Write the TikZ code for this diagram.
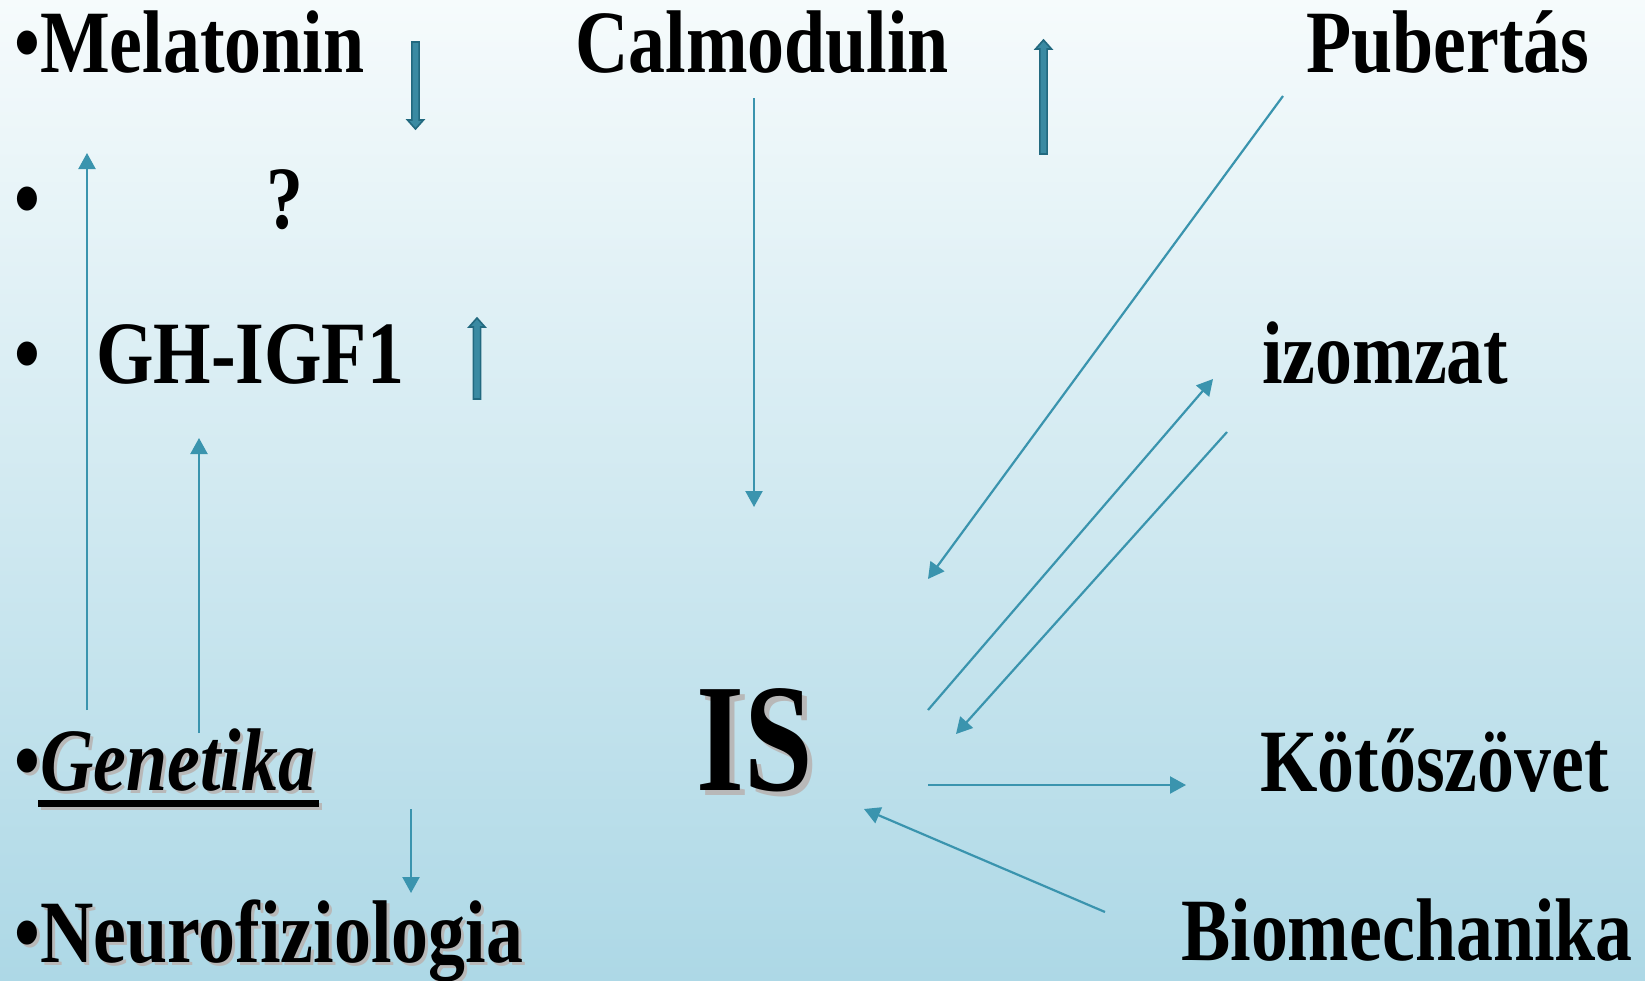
\documentclass[tikz,border=0pt]{standalone}
\usepackage{fontspec}
\setmainfont{Liberation Serif}[FakeStretch=0.83]
\newfontfamily\isfont{Liberation Serif}[FakeStretch=0.8]
\usetikzlibrary{arrows.meta}
\definecolor{btop}{HTML}{F6FBFC}
\definecolor{bmid}{HTML}{DDEFF4}
\definecolor{bbot}{HTML}{ADD8E6}
\definecolor{arr}{HTML}{3A94AE}
\definecolor{tkfill}{HTML}{3A8AA2}
\definecolor{tkdraw}{HTML}{22697F}
\definecolor{shgray}{HTML}{B8B8B8}
\tikzset{
  lbl/.style={inner sep=0pt, anchor=base west, font=\bfseries\fontsize{89pt}{89pt}\selectfont},
  islbl/.style={inner sep=0pt, anchor=base west, font=\isfont\bfseries\fontsize{154pt}{154pt}\selectfont},
  shadowtxt/.style={text=shgray},
  thin/.style={draw=arr, line width=2.2pt, -{Triangle[length=16pt,width=17pt]}},
  tkarrow/.style={fill=tkfill, draw=tkdraw, line width=1.6pt, line join=miter},
  pics/tharrow/.style={code={
    \filldraw[tkarrow] (-3.6,0) -- (-3.6,#1) -- (-8,#1) -- (0,#1+9) -- (8,#1) -- (3.6,#1) -- (3.6,0) -- cycle;
  }}
}
\begin{document}
\begin{tikzpicture}[x=1pt,y=-1pt]
\useasboundingbox (0,0) rectangle (1645,980);
\shade[top color=btop, middle color=bmid, bottom color=bbot] (0,0) rectangle (1645,980);

% texts
\node[lbl] (mel) at (14,72) {•Melatonin};
\node[lbl] (cal) at (575,72) {Calmodulin};
\node[lbl] (pub) at (1306,72) {Pubertás};
\node[lbl] (b2) at (14,228) {•};
\node[lbl] (q) at (266,228) {?};
\node[lbl] (b3) at (14,383) {•};
\node[lbl] (gh) at (96,383) {GH-IGF1};
\node[lbl] (izo) at (1262,383) {izomzat};
\node[lbl] (kot) at (1260,791) {Kötőszövet};
\node[lbl] (bio) at (1181,960) {Biomechanika};

% shadowed texts
\node[lbl, shadowtxt] (b4S) at (17,793) {•};
\node[lbl, shadowtxt, font=\bfseries\itshape\fontsize{89pt}{89pt}\selectfont] (genS) at (43,793) {Genetika};
\fill[shgray] ([shift={(-2,10)}]genS.base west) rectangle ([shift={(4,17)}]genS.base east);
\node[lbl] (b4) at (14,790) {•};
\node[lbl, font=\bfseries\itshape\fontsize{89pt}{89pt}\selectfont] (gen) at (40,790) {Genetika};
\fill[black] ([shift={(-2,10)}]gen.base west) rectangle ([shift={(4,17)}]gen.base east);

\node[lbl, shadowtxt] (neuS) at (17,965) {•Neurofiziologia};
\node[lbl] (neu) at (14,962) {•Neurofiziologia};

\node[islbl, shadowtxt] (isS) at (701,795) {IS};
\node[islbl] (is) at (696,790) {IS};

% thick block arrows
\pic at (415.5,42) {tharrow=78};
\pic[rotate=180] at (1043.5,154) {tharrow=105};
\pic[rotate=180] at (477,399) {tharrow=72};

% connector end points
\coordinate (a1s) at (87,710);   \coordinate (a1e) at (87,153);
\coordinate (a2s) at (199,733);  \coordinate (a2e) at (199,438);
\coordinate (a3s) at (411,809);  \coordinate (a3e) at (411,893);
\coordinate (a4s) at (754,98);   \coordinate (a4e) at (754,507);
\coordinate (a5s) at (1283,96);  \coordinate (a5e) at (928,579);
\coordinate (a6s) at (928,710);  \coordinate (a6e) at (1213,379);
\coordinate (a7s) at (1227,432); \coordinate (a7e) at (956,734);
\coordinate (a8s) at (928,785);  \coordinate (a8e) at (1186,785);
\coordinate (a9s) at (1105,912); \coordinate (a9e) at (864,809);

\draw[thin] (a1s) -- (a1e);
\draw[thin] (a2s) -- (a2e);
\draw[thin] (a3s) -- (a3e);
\draw[thin] (a4s) -- (a4e);
\draw[thin] (a5s) -- (a5e);
\draw[thin] (a6s) -- (a6e);
\draw[thin] (a7s) -- (a7e);
\draw[thin] (a8s) -- (a8e);
\draw[thin] (a9s) -- (a9e);
\end{tikzpicture}
\end{document}
